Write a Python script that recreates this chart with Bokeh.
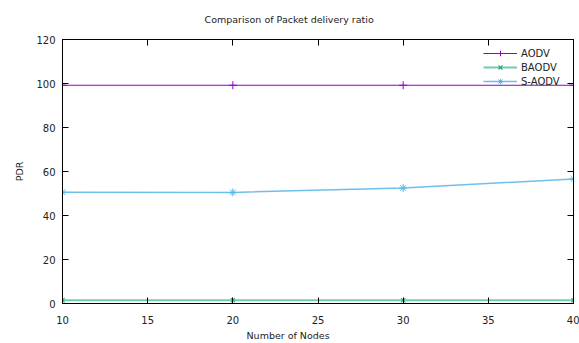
from bokeh.plotting import figure
from bokeh.models import (Range1d, FixedTicker, LinearAxis, Legend, LegendItem, Title,
                          CustomJSTickFormatter)
from bokeh.embed import file_html
from bokeh.resources import INLINE

nodes = [10, 20, 30, 40]
aodv = [99.2, 99.2, 99.2, 99.2]
baodv = [1.5, 1.5, 1.5, 1.5]
saodv = [50.6, 50.5, 52.5, 56.6]
x_ticks = [10, 15, 20, 25, 30, 35, 40]
y_ticks = [0, 20, 40, 60, 80, 100, 120]

FONT = "DejaVu Sans"
TXT = "#222222"

p = figure(width=579, height=343, output_backend="svg", toolbar_location=None,
           x_range=Range1d(10, 40), y_range=Range1d(0, 120),
           min_border_left=62, min_border_right=6, min_border_top=39, min_border_bottom=40,
           x_axis_location=None, y_axis_location=None)
p.title = None
p.xgrid.visible = False
p.ygrid.visible = False
p.outline_line_color = "black"
p.outline_line_width = 1
p.background_fill_color = "white"
p.border_fill_color = "white"

def mk_axis(loc, ticks, labels=True, label=None):
    ax = LinearAxis(ticker=FixedTicker(ticks=ticks))
    ax.major_tick_in = 6
    ax.major_tick_out = 0
    ax.minor_tick_in = 0
    ax.minor_tick_out = 0
    ax.axis_line_color = "black"
    ax.major_tick_line_color = "black"
    ax.major_label_text_font = FONT
    ax.major_label_text_color = TXT
    ax.major_label_text_font_size = "10px"
    if not labels:
        ax.formatter = CustomJSTickFormatter(code="return ''")
    if label:
        ax.axis_label = label
        ax.axis_label_text_font = FONT
        ax.axis_label_text_font_size = "9.5px"
        ax.axis_label_text_font_style = "normal"
        ax.axis_label_text_color = TXT
    p.add_layout(ax, loc)
    return ax

xb = mk_axis("below", x_ticks, True)
xb.major_label_standoff = 12
yl = mk_axis("left", y_ticks, True, "PDR")
yl.major_label_standoff = 7
yl.axis_label_standoff = 8
xa = mk_axis("above", x_ticks, False)
xa.major_label_standoff = 0
yr = mk_axis("right", y_ticks, False)
yr.major_label_standoff = 0

p.add_layout(Title(text="Number of Nodes", align="left", offset=184,
                   text_font=FONT, text_font_size="9.5px", text_font_style="normal",
                   text_color=TXT, standoff=3), "below")
p.add_layout(Title(text="Comparison of Packet delivery ratio", align="left", offset=142,
                   text_font=FONT, text_font_size="9.5px", text_font_style="normal",
                   text_color=TXT, standoff=26, vertical_align="top"), "above")

r1 = p.line(nodes, aodv, line_color="#9400d3", line_width=1.2)
m1 = p.scatter(nodes, aodv, marker="cross", size=8, line_color="#9400d3", line_width=1)
r2 = p.line(nodes, baodv, line_color="#009e73", line_width=2, line_alpha=0.55)
m2 = p.scatter(nodes, baodv, marker="x", size=6, line_color="#009e73", line_width=1.2, line_alpha=0.8)
r3 = p.line(nodes, saodv, line_color="#56b4e9", line_width=1.5, line_alpha=0.85)
m3 = p.scatter(nodes, saodv, marker="asterisk", size=8, line_color="#56b4e9", line_width=1)

legend = Legend(items=[LegendItem(label="AODV", renderers=[r1, m1]),
                       LegendItem(label="BAODV", renderers=[r2, m2]),
                       LegendItem(label="S-AODV", renderers=[r3, m3])],
                location="top_right")
legend.background_fill_alpha = 0
legend.border_line_alpha = 0
legend.label_text_font = FONT
legend.label_text_font_size = "10px"
legend.label_text_color = TXT
legend.glyph_width = 34
legend.glyph_height = 14
legend.label_height = 14
legend.label_width = 45
legend.spacing = 0
legend.padding = 2
legend.margin = 5
legend.label_standoff = 4
p.add_layout(legend)

open("out.html", "w").write(file_html(p, INLINE))
